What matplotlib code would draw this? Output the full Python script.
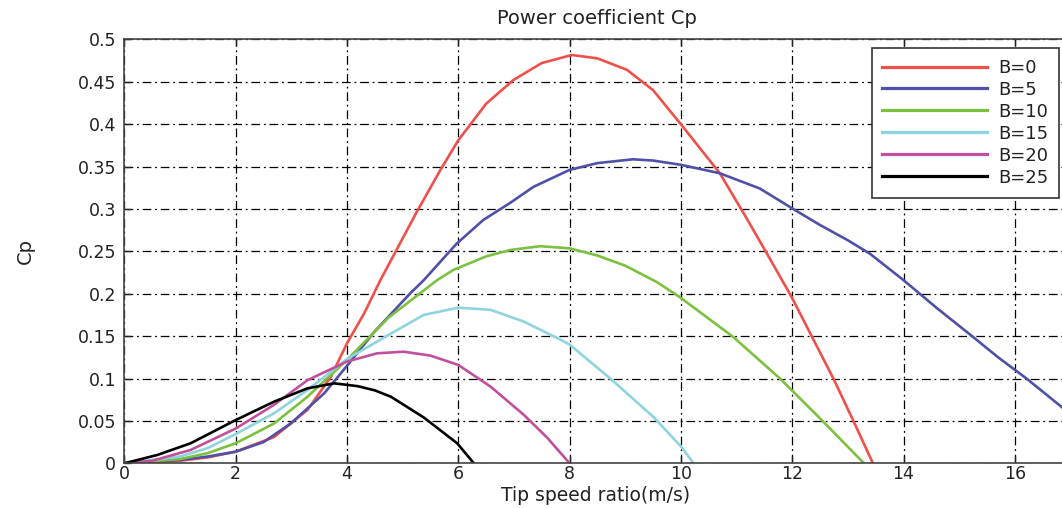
import matplotlib
matplotlib.use("Agg")
import matplotlib.pyplot as plt

# ---- data ----
x_b0 = [0, 1, 1.5, 2, 2.69, 3.29, 3.71, 4, 4.31, 4.6, 5.25, 5.67, 6, 6.21, 6.5, 6.99, 7.5, 8.04, 8.5, 9.03, 9.5, 10.01, 10.7, 11.18, 11.54, 11.99, 12.74, 13.1, 13.45]
y_b0 = [0, 0.003, 0.007, 0.0137, 0.031, 0.063, 0.102, 0.1415, 0.177, 0.216, 0.296, 0.345, 0.381, 0.399, 0.424, 0.452, 0.472, 0.4815, 0.4775, 0.464, 0.44, 0.399, 0.342, 0.289, 0.248, 0.196, 0.1, 0.05, 0]

x_b5 = [0, 1, 1.5, 2, 2.5, 2.99, 3.59, 4, 4.49, 5.13, 5.38, 5.97, 6.45, 6.93, 7.35, 8.0, 8.5, 9.14, 9.5, 10.0, 10.7, 11.42, 11.99, 12.5, 13.0, 13.4, 14.0, 14.6, 15.25, 15.7, 16.21, 16.85, 17.0]
y_b5 = [0, 0.004, 0.008, 0.0137, 0.025, 0.047, 0.0825, 0.115, 0.155, 0.2, 0.216, 0.259, 0.287, 0.307, 0.326, 0.346, 0.354, 0.3585, 0.357, 0.352, 0.342, 0.324, 0.301, 0.281, 0.263, 0.247, 0.216, 0.183, 0.149, 0.125, 0.1, 0.066, 0.058]

x_b10 = [0, 1, 1.5, 2, 2.69, 3.29, 4, 4.75, 5.62, 5.91, 6.5, 6.93, 7.47, 8.0, 8.5, 9.0, 9.56, 9.98, 10.94, 11.78, 12.5, 13.29]
y_b10 = [0, 0.005, 0.012, 0.0236, 0.047, 0.0785, 0.122, 0.172, 0.216, 0.228, 0.244, 0.2515, 0.256, 0.2535, 0.245, 0.233, 0.214, 0.196, 0.149, 0.1, 0.053, 0]

x_b15 = [0, 1, 1.5, 2, 2.69, 3.29, 4, 4.79, 5.38, 6.0, 6.58, 7.18, 7.83, 8.0, 8.73, 9.5, 10.0, 10.23]
y_b15 = [0, 0.008, 0.018, 0.0345, 0.059, 0.0864, 0.123, 0.153, 0.175, 0.1835, 0.181, 0.167, 0.146, 0.14, 0.1, 0.055, 0.02, 0]

x_b20 = [0, 0.5, 1.19, 2, 2.69, 3.29, 4, 4.54, 5.02, 5.5, 6.0, 6.58, 7.18, 7.6, 8.0]
y_b20 = [0, 0.003, 0.0157, 0.041, 0.069, 0.098, 0.12, 0.1297, 0.1316, 0.127, 0.116, 0.0904, 0.057, 0.03, 0]

x_b25 = [0, 0.59, 1.19, 2, 2.69, 3.29, 3.77, 4.19, 4.5, 4.79, 5.38, 5.98, 6.28]
y_b25 = [0, 0.0098, 0.0236, 0.051, 0.0727, 0.0884, 0.0943, 0.091, 0.086, 0.0785, 0.054, 0.0236, 0]

labels = ["B=0", "B=5", "B=10", "B=15", "B=20", "B=25"]
colors = ["#f0504a", "#5050a8", "#7cc040", "#8ed4de", "#c0509c", "#000000"]
xticks = [0, 2, 4, 6, 8, 10, 12, 14, 16]
yticks = [0, 0.05, 0.1, 0.15, 0.2, 0.25, 0.3, 0.35, 0.4, 0.45, 0.5]
ytick_labels = ["0", "0.05", "0.1", "0.15", "0.2", "0.25", "0.3", "0.35", "0.4", "0.45", "0.5"]

plt.rcParams['font.family'] = ['DejaVu Sans']
txt = "#222222"

fig = plt.figure(figsize=(10.62, 5.08), dpi=100)
ax = fig.add_axes([124.4 / 1062, 44.7 / 508, (17 * 55.65) / 1062, 424.0 / 508])

series = [(x_b0, y_b0), (x_b5, y_b5), (x_b10, y_b10), (x_b15, y_b15), (x_b20, y_b20), (x_b25, y_b25)]
for (xs, ys), lab, c in zip(series, labels, colors):
    ax.plot(xs, ys, color=c, lw=1.9, label=lab, solid_joinstyle='round')

ax.set_xlim(0, 17)
ax.set_ylim(0, 0.5)
ax.set_xticks(xticks)
ax.set_yticks(yticks)
ax.set_yticklabels(ytick_labels)
ax.tick_params(direction='in', top=True, right=True, labelsize=12.5, colors=txt, length=5, width=1)
ax.tick_params(axis='y', pad=6)
ax.tick_params(axis='x', pad=1)
ax.grid(True, color='black', lw=0.9, linestyle=(0, (7, 3, 1.5, 3)))
for s in ax.spines.values():
    s.set_color('#444444')
    s.set_linewidth(1.2)

fig.text(597 / 1062, 1 - 18 / 508, "Power coefficient Cp", ha='center', va='center', fontsize=14, color=txt)
fig.text(596 / 1062, 1 - 486 / 508, "Tip speed ratio(m/s)", ha='center', va='top', fontsize=13.5, color=txt)
fig.text(25 / 1062, 1 - 251 / 508, "Cp", ha='center', va='center', fontsize=14, color=txt, rotation=90)

leg = ax.legend(loc='upper right', bbox_to_anchor=(1059 / 1062, 1 - 48 / 508),
                bbox_transform=fig.transFigure, fontsize=13, frameon=True, fancybox=False,
                handlelength=5.8, handletextpad=0.6, labelspacing=0.22, borderpad=0.6,
                borderaxespad=0)
leg.get_frame().set_edgecolor('#333333')
leg.get_frame().set_linewidth(1.2)
leg.get_frame().set_alpha(1)
for t in leg.get_texts():
    t.set_color(txt)
for l in leg.get_lines():
    l.set_linewidth(2.3)

fig.savefig("out.png", dpi=100)
